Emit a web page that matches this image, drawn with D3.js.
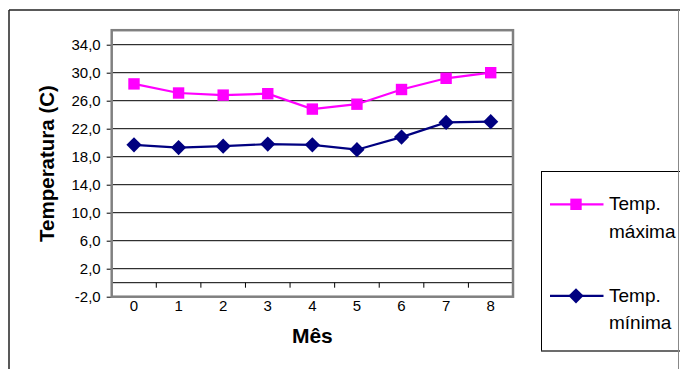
<!DOCTYPE html>
<html>
<head>
<meta charset="utf-8">
<script src="https://cdn.jsdelivr.net/npm/d3@7"></script>
<style>
  html, body { margin: 0; padding: 0; background: #fff; }
  svg { display: block; font-family: "Liberation Sans", Arial, sans-serif; }
</style>
</head>
<body>
<svg id="chart" width="680" height="369"></svg>
<script>
// Monthly temperatures (°C)
const months = [0, 1, 2, 3, 4, 5, 6, 7, 8];
const tempMax = [28.4, 27.1, 26.8, 27.0, 24.8, 25.5, 27.6, 29.2, 30.0];
const tempMin = [19.7, 19.3, 19.5, 19.8, 19.7, 19.0, 20.8, 22.9, 23.0];
const yTicks = [-2, 2, 6, 10, 14, 18, 22, 26, 30, 34];
const seriesNames = [["Temp.", "máxima"], ["Temp.", "mínima"]];

const svg = d3.select("#chart");
const plot = { left: 111.7, right: 513, top: 30.7, bottom: 296.7 };

const x = d3.scaleBand().domain(months).range([plot.left, plot.right]);
const y = d3.scaleLinear().domain([-2, 36]).range([plot.bottom, plot.top]);
const cx = d => x(d) + x.bandwidth() / 2;
const fmt = v => d3.format(".1f")(v).replace(".", ",").replace("\u2212", "-");

// outer chart frame
svg.append("line").attr("x1", 9).attr("x2", 9).attr("y1", 10).attr("y2", 369)
  .attr("stroke", "#222").attr("stroke-width", 1.5);
svg.append("line").attr("x1", 9).attr("x2", 680).attr("y1", 10).attr("y2", 10)
  .attr("stroke", "#222").attr("stroke-width", 1.5);

// horizontal gridlines
svg.append("g").selectAll("line").data(yTicks).join("line")
  .attr("x1", plot.left).attr("x2", plot.right)
  .attr("y1", d => y(d)).attr("y2", d => y(d))
  .attr("stroke", "#000").attr("stroke-width", 1);

// y axis with outward ticks
const yAxis = svg.append("g")
  .attr("transform", `translate(${plot.left},0)`)
  .call(d3.axisLeft(y).tickValues(yTicks).tickFormat(fmt).tickSize(5).tickPadding(6));
yAxis.select(".domain").remove();
yAxis.selectAll(".tick line").attr("stroke", "#000");
yAxis.selectAll(".tick text").attr("font-size", 15).attr("fill", "#000")
  .attr("font-family", "Liberation Sans, Arial, sans-serif");

// category axis crossing at 0, with ticks at band boundaries
const y0 = y(0);
svg.append("line").attr("x1", plot.left).attr("x2", plot.right)
  .attr("y1", y0).attr("y2", y0).attr("stroke", "#000").attr("stroke-width", 1);
const bounds = months.map(m => x(m)).concat([plot.right]);
svg.append("g").selectAll("line").data(bounds.slice(1)).join("line")
  .attr("x1", d => d).attr("x2", d => d)
  .attr("y1", y0).attr("y2", y0 + 5)
  .attr("stroke", "#000").attr("stroke-width", 1);

// plot area frame
svg.append("rect")
  .attr("x", plot.left).attr("y", plot.top - 0.5)
  .attr("width", plot.right - plot.left).attr("height", plot.bottom - plot.top + 0.5)
  .attr("fill", "none").attr("stroke", "#808080").attr("stroke-width", 2.5);

// category labels
svg.append("g").selectAll("text").data(months).join("text")
  .attr("x", d => cx(d)).attr("y", 310.5)
  .attr("text-anchor", "middle").attr("font-size", 15).attr("fill", "#000")
  .text(d => d);

// axis titles
svg.append("text").attr("x", (plot.left + plot.right) / 2).attr("y", 342.5)
  .attr("text-anchor", "middle").attr("font-size", 21).attr("font-weight", "bold")
  .text("Mês");
svg.append("text").attr("transform", "translate(54,163.5) rotate(-90)")
  .attr("text-anchor", "middle").attr("font-size", 20.5).attr("font-weight", "bold")
  .text("Temperatura (C)");

// series: squares for the maximum, square diamonds (rotated squares) for the minimum
const line = d3.line().x((d, i) => cx(months[i])).y(d => y(d));
const series = [
  { values: tempMax, color: "#FF00FF", size: 130, rot: 0 },
  { values: tempMin, color: "#000080", size: 115, rot: 45 }
];
const marker = s => d3.symbol().type(d3.symbolSquare).size(s.size)();
series.forEach(s => {
  svg.append("path").datum(s.values)
    .attr("d", line).attr("fill", "none")
    .attr("stroke", s.color).attr("stroke-width", 2.2);
  svg.append("g").selectAll("path").data(s.values).join("path")
    .attr("transform", (d, i) => `translate(${cx(months[i])},${y(d)}) rotate(${s.rot})`)
    .attr("d", marker(s))
    .attr("fill", s.color);
});

// legend
const lg = svg.append("g");
lg.append("rect").attr("x", 541.5).attr("y", 171.5).attr("width", 160).attr("height", 179.5)
  .attr("fill", "#fff").attr("stroke", "#000").attr("stroke-width", 1);
lg.append("line").attr("x1", 541.5).attr("x2", 680).attr("y1", 351).attr("y2", 351)
  .attr("stroke", "#666").attr("stroke-width", 1.5);
const legendY = [204.3, 295.8];
series.forEach((s, i) => {
  const ly = legendY[i];
  lg.append("line").attr("x1", 550).attr("x2", 603.5).attr("y1", ly).attr("y2", ly)
    .attr("stroke", s.color).attr("stroke-width", 2.2);
  lg.append("path").attr("transform", `translate(576,${ly}) rotate(${s.rot})`)
    .attr("d", marker(s)).attr("fill", s.color);
  const t = lg.append("text").attr("x", 609).attr("y", ly + 6).attr("font-size", 19).attr("fill", "#000");
  t.append("tspan").attr("x", 609).text(seriesNames[i][0]);
  t.append("tspan").attr("x", 609).attr("dy", 27.5).text(seriesNames[i][1]);
});
// the outer frame's right edge runs over the legend box
svg.append("line").attr("x1", 678.5).attr("x2", 678.5).attr("y1", 10).attr("y2", 369)
  .attr("stroke", "#888").attr("stroke-width", 1);
</script>
</body>
</html>
